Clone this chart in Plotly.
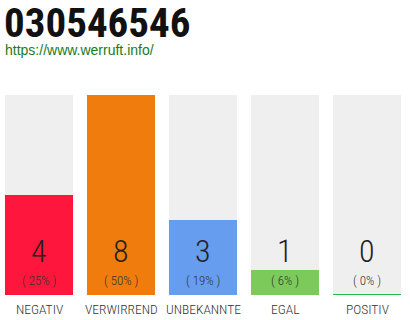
import plotly.graph_objects as go

categories = ["NEGATIV", "VERWIRREND", "UNBEKANNTE", "EGAL", "POSITIV"]
counts = [4, 8, 3, 1, 0]
percent_labels = ["( 25% )", "( 50% )", "( 19% )", "( 6% )", "( 0% )"]
colors = ["#FF163C", "#F07C0D", "#669DEE", "#7CCB5A", "#1EBE46"]
title_text = "030546546"
subtitle_text = "https://www.werruft.info/"

max_count = max(counts)
xs = list(range(len(categories)))

fig = go.Figure()
fig.add_trace(go.Bar(x=xs, y=[max_count] * len(xs), width=0.83,
                     marker=dict(color="#EFEFEF", line=dict(width=0)),
                     hoverinfo="skip"))
fig.add_trace(go.Bar(x=xs, y=counts, width=0.83,
                     marker=dict(color=colors, line=dict(width=0)),
                     hoverinfo="skip"))

for i, c in enumerate(counts):
    if c == 0:
        fig.add_shape(type="line", x0=i - 0.415, x1=i + 0.415, y0=0, y1=0,
                      xref="x", yref="y", line=dict(color=colors[i], width=2))

cond = "Roboto Condensed"
for i, cat in enumerate(categories):
    fig.add_annotation(x=i, y=1.0, xref="x", yref="y", text=str(counts[i]),
                       showarrow=False, yanchor="bottom", yshift=-2,
                       font=dict(family=cond, size=32, color="#222222", weight=300))
    fig.add_annotation(x=i, y=0, xref="x", yref="y", text=percent_labels[i],
                       showarrow=False, yanchor="bottom", yshift=5,
                       font=dict(family=cond, size=13, color="#333333", weight=300))
    fig.add_annotation(x=i, y=0, xref="x", yref="y", text=cat,
                       showarrow=False, yanchor="top", yshift=-4,
                       font=dict(family=cond, size=13.5, color="#333333", weight=300))

fig.add_annotation(x=0, y=1, xref="paper", yref="paper", text=title_text,
                   showarrow=False, xanchor="left", yanchor="top", xshift=2, yshift=98,
                   font=dict(family=cond, size=41, color="#111111", weight=700))
fig.add_annotation(x=0, y=1, xref="paper", yref="paper", text=subtitle_text,
                   showarrow=False, xanchor="left", yanchor="top", xshift=3, yshift=55,
                   font=dict(family="Liberation Sans", size=14, color="#1B7A1B"))

fig.update_layout(
    width=410, height=320,
    margin=dict(l=0, r=0, t=95, b=25),
    barmode="overlay", showlegend=False,
    paper_bgcolor="white", plot_bgcolor="white",
    xaxis=dict(range=[-39 / 82, 371 / 82], visible=False, fixedrange=True),
    yaxis=dict(range=[0, max_count], visible=False, fixedrange=True),
)
fig.write_html("out.html", config={"displayModeBar": False})
